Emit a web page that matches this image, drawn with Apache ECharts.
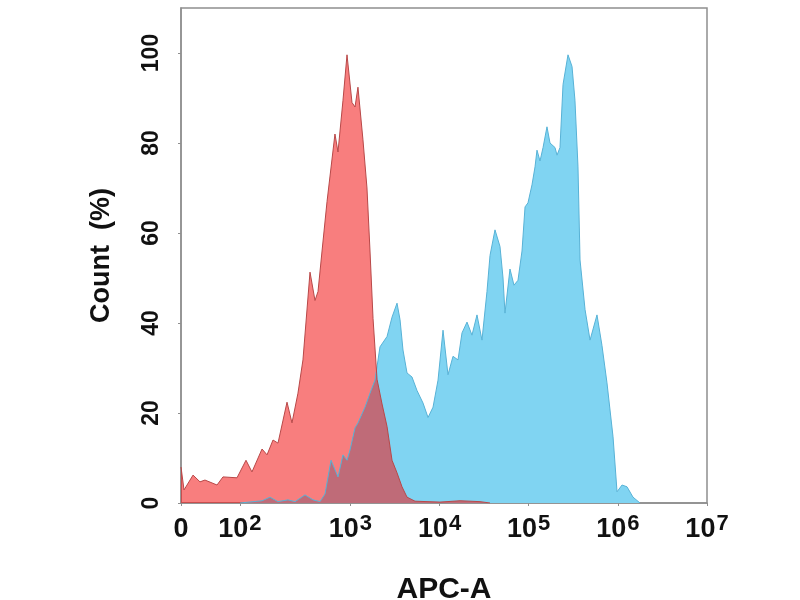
<!DOCTYPE html>
<html>
<head>
    <meta charset="UTF-8">
    <title>APC-A</title>
    <script src="https://cdn.jsdelivr.net/npm/echarts@6/dist/echarts.min.js"></script>
    <style>
        html, body { margin: 0; padding: 0; background: #fff; }
        #main { width: 800px; height: 600px; }
    </style>
</head>
<body>
<div id="main"></div>
<script type="text/javascript">
    // x is in display units of the biexponential axis: 10^3 = 3, 10^4 = 4 ... ; "0" sits at 1.1, 10^2 at 1.76
    var tickPos = [1.1, 1.76, 3, 4, 5, 6, 7];
    var tickExp = ['', '2', '3', '4', '5', '6', '7'];
    var yTicks = [0, 20, 40, 60, 80, 100];

    // control sample (red)
    var redX = [1.100, 1.134, 1.235, 1.313, 1.369, 1.504, 1.571, 1.728, 1.829, 1.896,
        2.009, 2.065, 2.132, 2.188, 2.289, 2.345, 2.412, 2.468, 2.547, 2.603,
        2.637, 2.682, 2.738, 2.827, 2.861, 2.917, 2.962, 3.018, 3.052, 3.085,
        3.141, 3.186, 3.220, 3.254, 3.299, 3.355, 3.411, 3.467, 3.523, 3.579,
        3.635, 3.725, 4.005, 4.230, 4.454, 4.566];
    var redY = [8.0, 2.9, 6.2, 4.7, 5.1, 4.0, 5.8, 5.6, 9.5, 6.9,
        12.0, 10.7, 14.0, 13.3, 22.4, 17.8, 24.4, 31.8, 51.3, 45.0,
        47.0, 56.0, 67.0, 82.0, 78.0, 89.5, 99.6, 89.0, 88.0, 92.4,
        80.7, 70.0, 56.0, 41.0, 27.5, 22.0, 17.0, 9.5, 6.7, 3.6,
        1.3, 0.4, 0.2, 0.5, 0.3, 0];

    // stained sample (blue)
    var blueX = [1.762, 2.009, 2.098, 2.188, 2.300, 2.379, 2.491, 2.581, 2.659, 2.715,
        2.783, 2.861, 2.917, 2.962, 2.996, 3.052, 3.085, 3.164, 3.220, 3.276,
        3.332, 3.411, 3.467, 3.523, 3.557, 3.590, 3.635, 3.691, 3.747, 3.815,
        3.871, 3.927, 3.983, 4.039, 4.095, 4.151, 4.207, 4.252, 4.308, 4.364,
        4.420, 4.476, 4.532, 4.566, 4.622, 4.678, 4.712, 4.734, 4.790, 4.835,
        4.880, 4.925, 4.959, 4.992, 5.037, 5.071, 5.093, 5.127, 5.161, 5.205,
        5.239, 5.295, 5.318, 5.351, 5.385, 5.441, 5.486, 5.519, 5.553, 5.576,
        5.632, 5.688, 5.766, 5.822, 5.878, 5.946, 5.991, 6.047, 6.103, 6.170,
        6.249];
    var blueY = [0, 0.5, 1.3, 0.3, 0.7, 0.3, 1.8, 0.7, 0.3, 2.0,
        9.5, 5.8, 10.7, 9.5, 11.8, 16.7, 17.8, 21.3, 24.4, 27.3,
        34.7, 37.0, 41.3, 44.4, 40.7, 34.0, 28.9, 28.0, 25.0, 22.2,
        19.0, 21.3, 27.3, 38.4, 28.5, 32.6, 31.8, 37.8, 40.2, 37.3,
        41.8, 36.2, 47.0, 55.0, 60.7, 57.0, 50.0, 42.2, 52.0, 48.4,
        49.5, 56.0, 65.8, 66.7, 70.7, 74.7, 78.4, 76.0, 79.0, 83.6,
        80.0, 79.0, 77.3, 79.0, 93.0, 99.6, 97.0, 89.5, 74.7, 54.0,
        43.0, 36.2, 41.8, 35.0, 26.7, 14.7, 2.5, 4.0, 3.6, 1.3,
        0];

    function pairs(xs, ys) {
        return xs.map(function (x, i) { return [x, ys[i]]; });
    }

    var font = 'Liberation Sans, Arial, sans-serif';
    var myChart = echarts.init(document.getElementById('main'));

    var option = {
        animation: false,
        grid: {
            left: 181,
            right: 93,
            top: 8,
            bottom: 97,
            show: true,
            borderColor: '#8f8f8f',
            borderWidth: 1.5,
            outerBoundsMode: 'none'
        },
        xAxis: {
            type: 'value',
            min: 1.1,
            max: 7,
            name: 'APC-A',
            nameLocation: 'middle',
            nameGap: 72,
            nameTextStyle: {fontFamily: font, fontWeight: 'bold', fontSize: 30, color: '#111'},
            axisLine: {lineStyle: {color: '#8f8f8f', width: 1.5}},
            axisTick: {customValues: tickPos, length: 3, lineStyle: {color: '#8f8f8f'}},
            splitLine: {show: false},
            axisLabel: {
                customValues: tickPos,
                margin: 6,
                formatter: function (v) {
                    var i = tickPos.indexOf(v);
                    if (i <= 0) return '{b|0}';
                    return '{b|10}{s|' + tickExp[i] + '}';
                },
                rich: {
                    // same line height for "0" and "10ⁿ" so the digits share a baseline
                    b: {fontFamily: font, fontWeight: 'bold', fontSize: 27, lineHeight: 42, color: '#111'},
                    s: {fontFamily: font, fontWeight: 'bold', fontSize: 22, lineHeight: 24, color: '#111', padding: [0, 0, 12, 1]}
                }
            }
        },
        yAxis: {
            type: 'value',
            min: 0,
            max: 110,
            name: 'Count  (%)',
            nameLocation: 'middle',
            nameGap: 66,
            nameTextStyle: {fontFamily: font, fontWeight: 'bold', fontSize: 27, color: '#111'},
            axisLine: {show: true, lineStyle: {color: '#8f8f8f', width: 1.5}},
            axisTick: {show: true, customValues: yTicks, length: 3, lineStyle: {color: '#8f8f8f'}},
            splitLine: {show: false},
            axisLabel: {
                customValues: yTicks,
                rotate: 90,
                margin: 18,
                fontFamily: font,
                fontWeight: 'bold',
                fontSize: 23,
                color: '#111'
            }
        },
        series: [
            {
                name: 'stained',
                type: 'line',
                data: pairs(blueX, blueY),
                showSymbol: false,
                lineStyle: {color: '#58b2d6', width: 1},
                areaStyle: {color: '#80d4f2', opacity: 1}
            },
            {
                name: 'control',
                type: 'line',
                data: pairs(redX, redY),
                showSymbol: false,
                lineStyle: {color: '#b84848', width: 1},
                areaStyle: {color: 'rgba(242,20,20,0.55)', opacity: 1}
            }
        ]
    };

    myChart.setOption(option);
</script>
</body>
</html>
